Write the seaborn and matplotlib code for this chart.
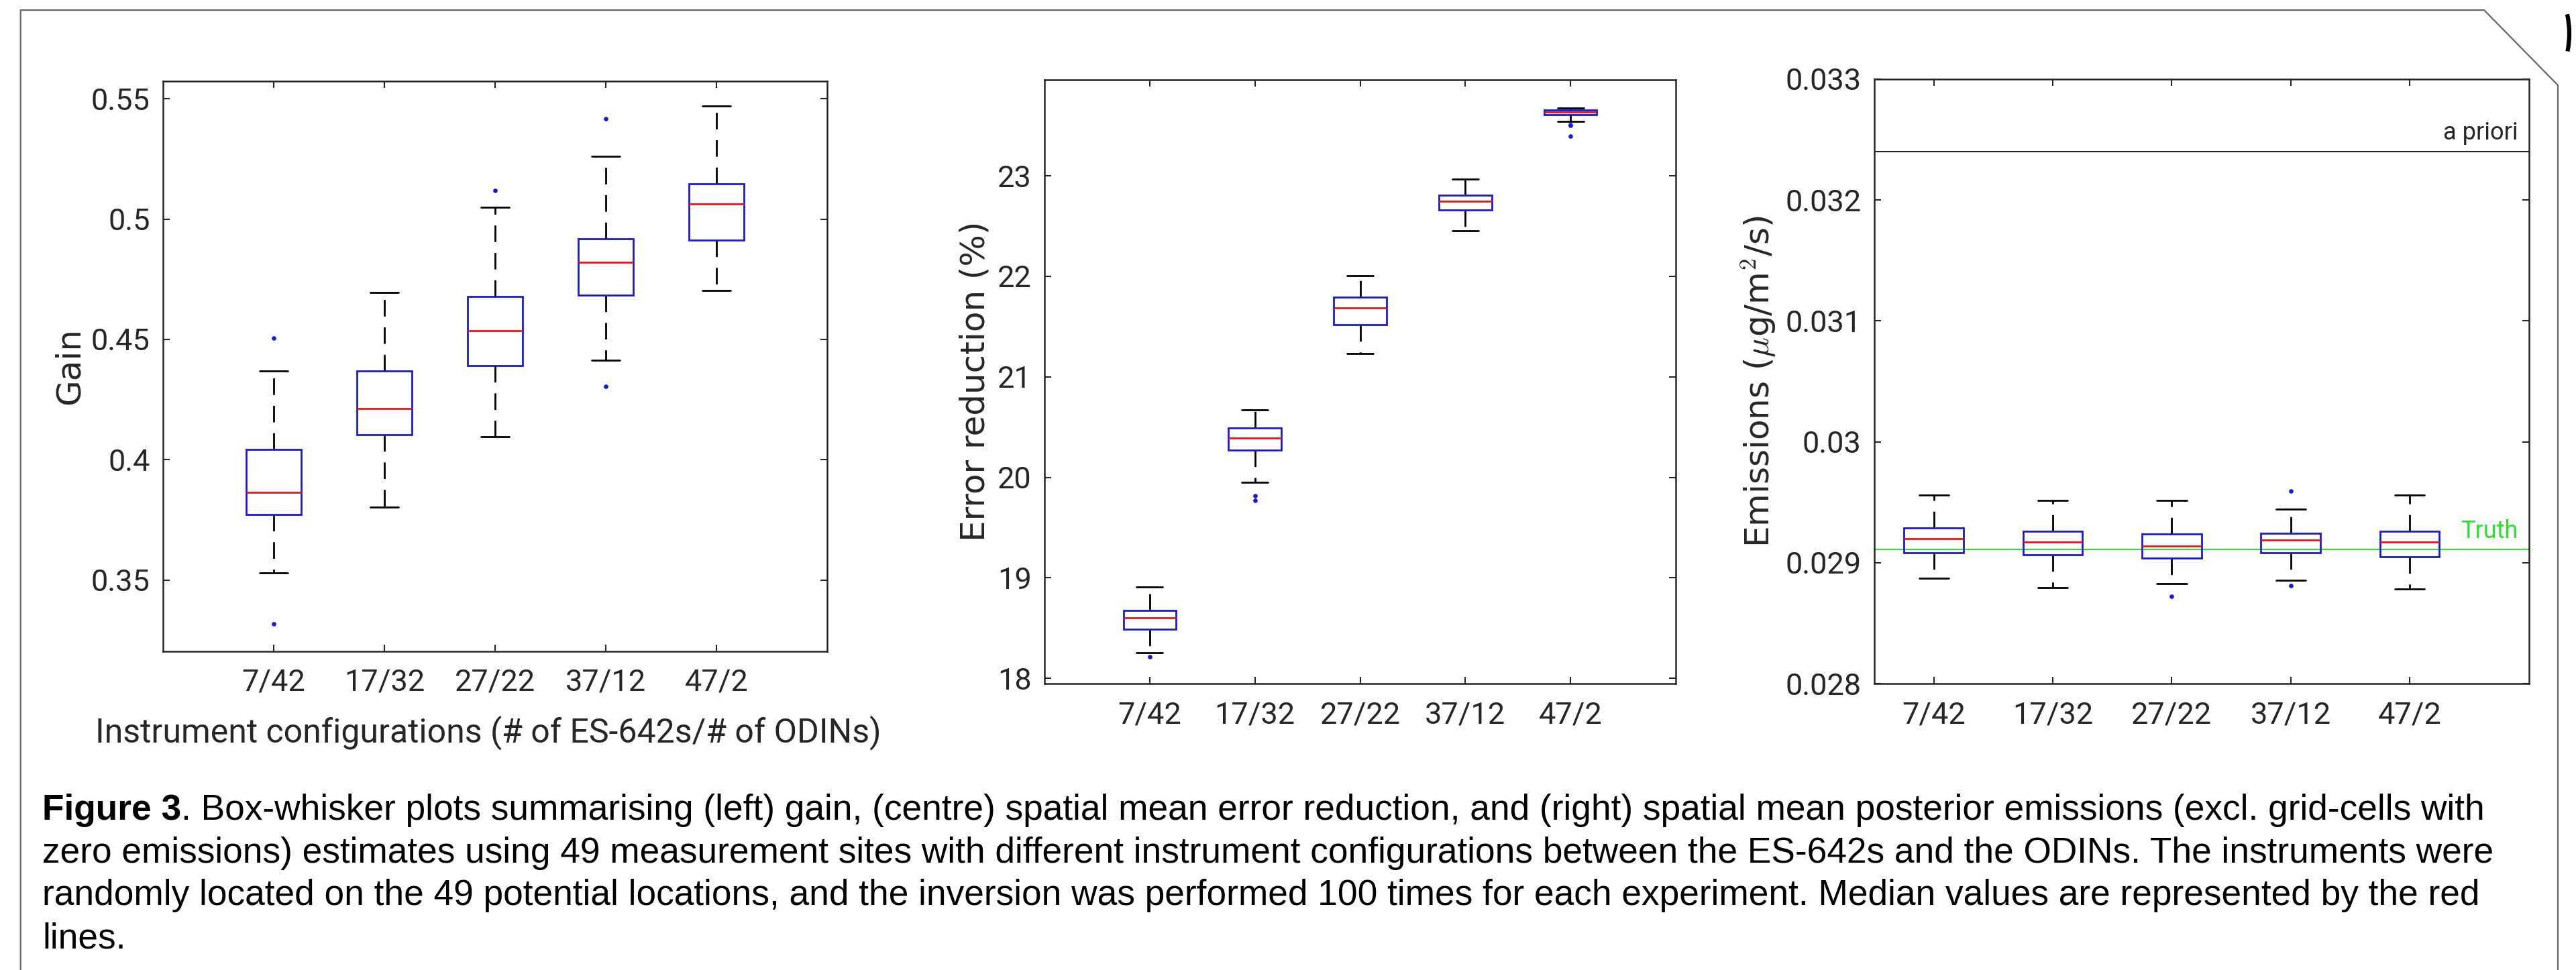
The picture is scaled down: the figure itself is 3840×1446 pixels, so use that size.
import numpy as np
import pandas as pd
import matplotlib
matplotlib.use("Agg")
import matplotlib.pyplot as plt
from matplotlib.lines import Line2D
from matplotlib.patches import Arc
import matplotlib.transforms as mtransforms
import seaborn as sns

# ---------------- data ----------------
categories = ["7/42", "17/32", "27/22", "37/12", "47/2"]

# Gain
gain_whislo = [0.3531, 0.3803, 0.4097, 0.4414, 0.4702]
gain_q1     = [0.3772, 0.4105, 0.4392, 0.4684, 0.4913]
gain_median = [0.3864, 0.4212, 0.4535, 0.4821, 0.5062]
gain_q3     = [0.4044, 0.4369, 0.4678, 0.4919, 0.5146]
gain_whishi = [0.4369, 0.4694, 0.5050, 0.5261, 0.5469]
gain_fliers = [[0.3318, 0.4506], [], [0.5120], [0.4306, 0.5416], []]
gain_ticks = [0.35, 0.4, 0.45, 0.5, 0.55]
gain_ticklabels = ["0.35", "0.4", "0.45", "0.5", "0.55"]

# Error reduction (%)
err_whislo = [18.258, 19.952, 21.235, 22.457, 23.544]
err_q1     = [18.492, 20.272, 21.521, 22.658, 23.608]
err_median = [18.601, 20.388, 21.689, 22.747, 23.634]
err_q3     = [18.674, 20.492, 21.792, 22.808, 23.657]
err_whishi = [18.907, 20.673, 22.007, 22.967, 23.672]
err_fliers = [[18.212], [19.770, 19.820], [], [], [23.394, 23.500, 23.510]]
err_ticks = [18, 19, 20, 21, 22, 23]
err_ticklabels = ["18", "19", "20", "21", "22", "23"]

# Emissions
emis_whislo = [0.028870, 0.028795, 0.028825, 0.028856, 0.028781]
emis_q1     = [0.029082, 0.029065, 0.029037, 0.029082, 0.029049]
emis_median = [0.029200, 0.029171, 0.029139, 0.029186, 0.029171]
emis_q3     = [0.029289, 0.029261, 0.029240, 0.029245, 0.029261]
emis_whishi = [0.029561, 0.029515, 0.029515, 0.029441, 0.029561]
emis_fliers = [[], [], [0.028722], [0.028809, 0.029594], []]
emis_ticks = [0.028, 0.029, 0.030, 0.031, 0.032, 0.033]
emis_ticklabels = ["0.028", "0.029", "0.03", "0.031", "0.032", "0.033"]
emis_apriori = 0.0324
emis_truth = 0.02911

caption_bold = "Figure 3"
caption_lines = [
    ". Box-whisker plots summarising (left) gain, (centre) spatial mean error reduction, and (right) spatial mean posterior emissions (excl. grid-cells with",
    "zero emissions) estimates using 49 measurement sites with different instrument configurations between the ES-642s and the ODINs. The instruments were",
    "randomly located on the 49 potential locations, and the inversion was performed 100 times for each experiment. Median values are represented by the red",
    "lines.",
]

# ---------------- styling ----------------
W, H = 3840, 1446
BLUE = "#1a1ad0"
RED = "#e01818"
GREEN = "#2ee02e"
DARK = "#262626"
LW = 2.0
CAP_FS = 38.3

sns.set_theme(style="ticks", rc={
    "axes.edgecolor": DARK,
    "axes.linewidth": 1.8,
    "xtick.color": DARK,
    "ytick.color": DARK,
    "axes.labelcolor": DARK,
    "text.color": DARK,
})
plt.rcParams["font.family"] = ["Roboto", "DejaVu Sans"]
plt.rcParams["mathtext.fontset"] = "cm"

YLAB_FONT = dict(fontsize=36, color=DARK, family=["DejaVu Sans"])


def long_table(whislo, q1, med, q3, whishi, fliers):
    """Long-form table whose box statistics equal the read summary values."""
    rows = []
    for cat, a, b, c, d, e, fl in zip(categories, whislo, q1, med, q3, whishi, fliers):
        lo = sorted(v for v in fl if v < b)
        hi = sorted(v for v in fl if v > d)
        k = max(len(lo), len(hi)) + 1
        vals = lo + [a] * (k - len(lo)) + [b] + [c] * (2 * k - 1) + [d] + [e] * (k - len(hi)) + hi
        rows += [(cat, v) for v in vals]
    return pd.DataFrame(rows, columns=["config", "value"])


def px_axes(x0, y0, x1, y1):
    return [x0 / W, 1 - y1 / H, (x1 - x0) / W, (y1 - y0) / H]


def draw_box(ax, df):
    sns.boxplot(
        data=df, x="config", y="value", order=categories, ax=ax,
        width=0.5, whis=1.5, linewidth=LW, fill=True,
        boxprops=dict(facecolor="none", edgecolor=BLUE, zorder=3),
        medianprops=dict(color=RED, zorder=4),
        whiskerprops=dict(color="black", linestyle=(0, (8.9, 5.8))),
        capprops=dict(color="black"),
        flierprops=dict(marker="o", markerfacecolor=BLUE, markeredgecolor=BLUE,
                        markersize=4.8, markeredgewidth=0),
    )


def style_axes(ax, ticks, ticklabels, ylim, xlim):
    ax.set_ylim(*ylim)
    ax.set_xlim(*xlim)
    ax.set_yticks(ticks)
    ax.set_yticklabels(ticklabels)
    ax.set_xticks(range(len(categories)))
    ax.set_xticklabels(categories)
    ax.tick_params(axis="both", direction="in", length=7, width=1.5,
                   top=True, right=True, labelsize=32.5, labelcolor=DARK)
    ax.tick_params(axis="x", pad=19)
    ax.tick_params(axis="y", pad=14)
    for s in ax.spines.values():
        s.set_visible(True)
        s.set_color(DARK)
        s.set_linewidth(1.8)
    ax.grid(False)


fig = plt.figure(figsize=(W / 100, H / 100), dpi=100)
fig.patch.set_facecolor("white")

ax1 = fig.add_axes(px_axes(243, 121, 1233, 970.5))
ax2 = fig.add_axes(px_axes(1557, 118.5, 2498, 1019))
ax3 = fig.add_axes(px_axes(2794, 118, 3769.5, 1019))

# Left: gain
draw_box(ax1, long_table(gain_whislo, gain_q1, gain_median, gain_q3, gain_whishi, gain_fliers))
style_axes(ax1, gain_ticks, gain_ticklabels, (0.3205, 0.5573), (-1, 5))
ax1.set_ylabel("Gain", **YLAB_FONT)
ax1.yaxis.set_label_coords(-0.116, 0.5)
ax1.set_xlabel("Instrument configurations (# of ES-642s/# of ODINs)", fontsize=36, color=DARK)
ax1.xaxis.set_label_coords(0.49, -0.1124)

# Middle: error reduction
draw_box(ax2, long_table(err_whislo, err_q1, err_median, err_q3, err_whishi, err_fliers))
style_axes(ax2, err_ticks, err_ticklabels, (17.948, 23.959), (-1, 5))
ax2.set_ylabel("Error reduction (%)", **YLAB_FONT)
ax2.yaxis.set_label_coords(-0.085, 0.5)
ax2.set_xlabel("")

# Right: emissions
ax3.axhline(emis_apriori, color=DARK, lw=1.5, zorder=1)
ax3.axhline(emis_truth, color=GREEN, lw=1.5, zorder=1)
draw_box(ax3, long_table(emis_whislo, emis_q1, emis_median, emis_q3, emis_whishi, emis_fliers))
style_axes(ax3, emis_ticks, emis_ticklabels, (0.028, 0.033), (-0.5, 5))
ax3.set_ylabel("Emissions ($\\mu$g/m$^2$/s)", **YLAB_FONT)
ax3.yaxis.set_label_coords(-0.148, 0.5)
ax3.set_xlabel("")
blend = mtransforms.blended_transform_factory(ax3.transAxes, ax3.transData)
ax3.text(0.984, 0.03250, "a priori", transform=blend, ha="right", va="baseline",
         fontsize=26, color=DARK)
ax3.text(0.984, 0.029204, "Truth", transform=blend, ha="right", va="baseline",
         fontsize=26, color=GREEN)


# Page frame decoration
def fx(x):
    return x / W


def fy(y):
    return 1 - y / H


frame_x = [30.7, 30.7, 3703, 3813, 3813]
frame_y = [1446, 15, 15, 127, 1446]
fig.add_artist(Line2D([fx(v) for v in frame_x], [fy(v) for v in frame_y],
                      transform=fig.transFigure, color="#666666", lw=1.6))
fig.add_artist(Arc((fx(3695), fy(50)), 270 / W, 270 / H, theta1=-28, theta2=30,
                   transform=fig.transFigure, color="black", lw=4.5))

# Caption
renderer = fig.canvas.get_renderer()
base0 = 1222
step = 63.7
t0 = fig.text(fx(63), fy(base0), caption_bold, fontfamily="Liberation Sans",
              fontweight="bold", fontsize=CAP_FS, va="baseline", color="black")
bb = t0.get_window_extent(renderer)
fig.text(bb.x1 / W, fy(base0), caption_lines[0], fontfamily="Liberation Sans",
         fontsize=CAP_FS, va="baseline", color="black")
for i, line in enumerate(caption_lines[1:], start=1):
    fig.text(fx(63), fy(base0 + i * step), line, fontfamily="Liberation Sans",
             fontsize=CAP_FS, va="baseline", color="black")

fig.savefig("out.png", dpi=100, facecolor="white")
